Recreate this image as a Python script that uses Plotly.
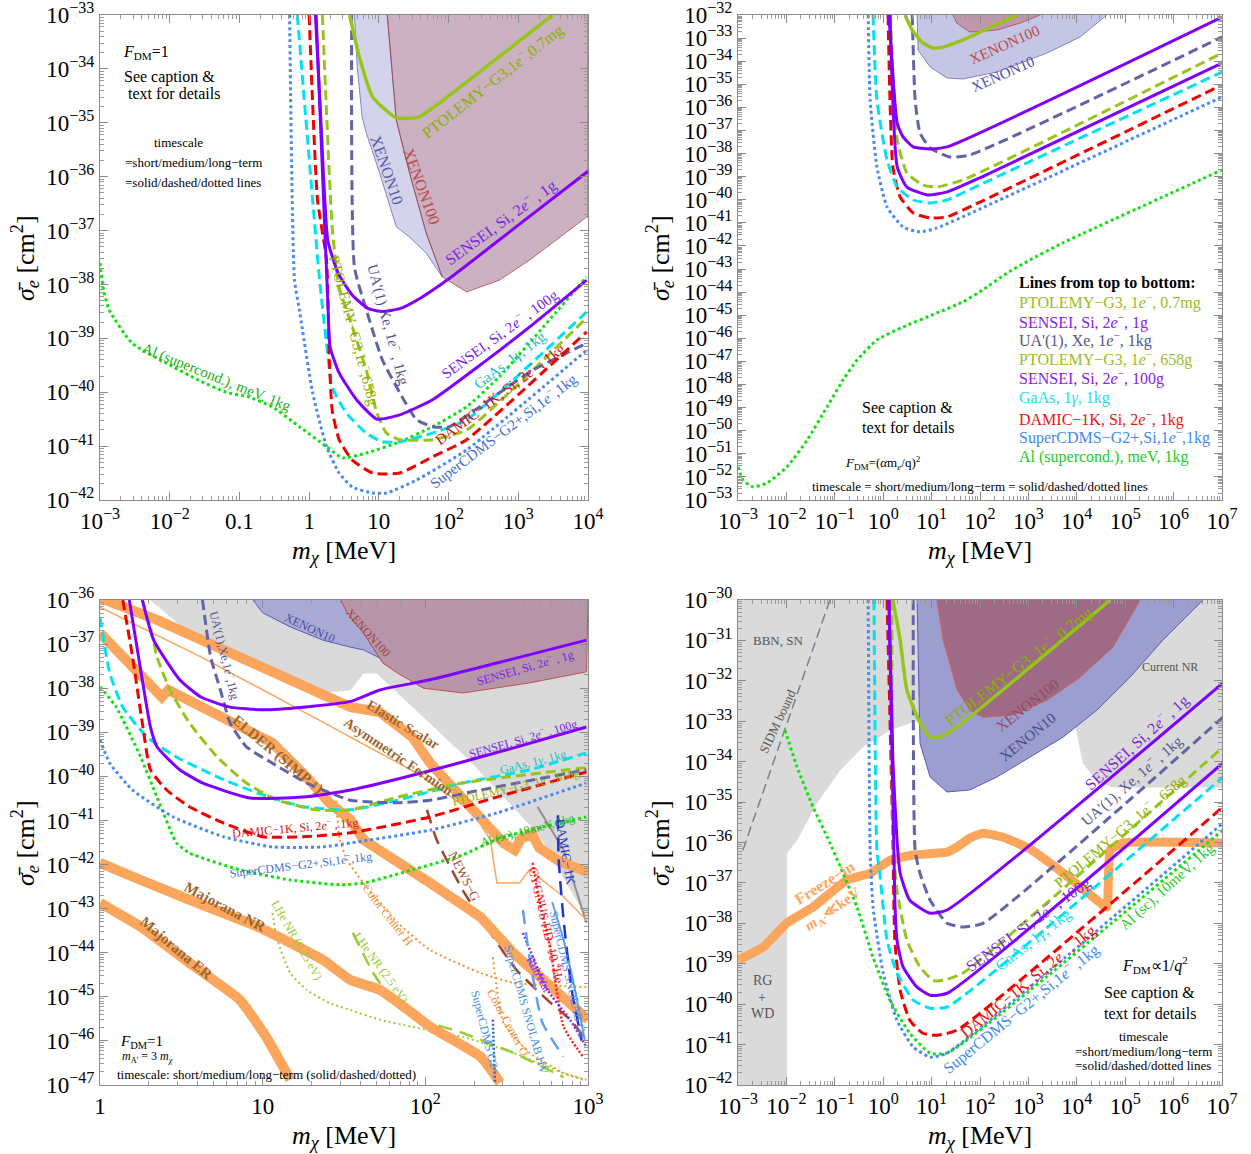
import numpy as np
import plotly.graph_objects as go

FONT = "Liberation Serif"
W, H = 1251, 1154
OFF = 0  # body margin removed via post_script

# ---- colours ----
C_PTOL = "#97C51B"
C_SENSEI = "#8000FF"
C_UA = "#6363A8"
C_GAAS = "#00E3EE"
C_DAMIC = "#F00000"
C_CDMS = "#4A8CEE"
C_AL = "#12E012"
C_OR = "#FBA65C"

T_PTOL = "#8DB000"
T_SENSEI = "#7A1FE0"
T_UA = "#55558F"
T_GAAS = "#20C0C0"
T_DAMIC = "#D01010"
T_CDMS = "#3F6FD0"
T_AL = "#20B020"
T_OR = "#9B6530"

# ================= DATA (log10 m_chi [MeV], log10 sigma_e [cm^2]) =================
# ---- top-left panel: F_DM = 1 ----
tl_x10_m = [0.65, 0.69, 0.76, 0.82, 1.01, 1.25, 1.44, 1.68, 1.91, 1.68, 1.44, 1.25, 1.12]
tl_x10_s = [-33.0, -33.97, -34.89, -35.19, -35.93, -36.93, -37.12, -37.42, -37.86, -37.05, -35.93, -34.95, -33.0]
tl_x100_m = [1.12, 1.25, 1.44, 1.68, 1.91, 2.26, 2.73, 3.16, 3.98, 4.0, 4.0]
tl_x100_s = [-33.0, -34.95, -35.93, -37.05, -37.86, -38.14, -37.92, -37.55, -36.75, -36.75, -33.0]
tl_ptol07_m = [0.58, 0.72, 0.91, 1.25, 1.58, 1.87, 3.49]
tl_ptol07_s = [-33.0, -33.78, -34.52, -34.91, -34.89, -34.63, -33.0]
tl_sensei1_m = [0.09, 0.17, 0.27, 0.42, 0.62, 0.85, 1.05, 1.3, 1.6, 2.0, 3.0, 4.0]
tl_sensei1_s = [-33.0, -35.0, -37.2, -37.8, -38.2, -38.45, -38.5, -38.45, -38.25, -37.9, -36.9, -35.9]
tl_sensei100_m = [0.1, 0.2, 0.27, 0.3, 0.43, 0.68, 0.97, 1.3, 1.77, 2.5, 3.2, 3.98]
tl_sensei100_s = [-33.0, -36.2, -38.4, -39.16, -39.64, -40.14, -40.5, -40.42, -40.14, -39.45, -38.75, -37.92]
tl_ua_m = [0.61, 0.65, 0.82, 1.05, 1.3, 1.54, 1.77, 2.01, 2.73, 3.21, 3.98]
tl_ua_s = [-33.0, -37.68, -38.47, -39.4, -40.01, -40.51, -40.64, -40.64, -40.01, -39.59, -39.09]
tl_ptol658_m = [0.19, 0.33, 0.43, 0.62, 0.82, 0.97, 1.11, 1.3, 1.77, 2.26, 3.0, 3.98]
tl_ptol658_s = [-33.0, -36.93, -38.05, -38.79, -39.59, -40.38, -40.76, -40.88, -40.88, -40.70, -39.85, -38.62]
tl_gaas_m = [-0.17, 0.15, 0.25, 0.33, 0.53, 0.82, 1.05, 1.3, 1.77, 2.26, 3.98]
tl_gaas_s = [-33.0, -37.92, -39.09, -39.9, -40.38, -40.76, -40.92, -40.92, -40.76, -40.51, -38.51]
tl_damic_m = [0.0, 0.12, 0.25, 0.29, 0.33, 0.43, 0.62, 0.91, 1.3, 1.77, 2.26, 3.98]
tl_damic_s = [-33.0, -36.43, -37.55, -39.4, -40.33, -40.88, -41.26, -41.5, -41.5, -41.2, -40.88, -38.88]
tl_cdms_m = [-0.28, -0.21, -0.14, 0.05, 0.25, 0.43, 0.62, 0.91, 1.11, 1.54, 2.26, 3.98]
tl_cdms_s = [-33.0, -37.92, -38.47, -40.01, -41.01, -41.5, -41.76, -41.87, -41.87, -41.63, -41.07, -39.22]
tl_al_m = [-3.0, -2.95, -2.87, -2.54, -2.05, -1.58, -1.19, -0.86, -0.53, -0.14, 0.25, 0.48, 0.82, 1.3, 1.77, 2.26, 2.73, 3.98]
tl_al_s = [-37.6, -38.1, -38.47, -39.09, -39.46, -39.78, -40.0, -40.09, -40.27, -40.64, -41.01, -41.22, -41.13, -40.92, -40.64, -40.27, -39.71, -37.86]

# ---- top-right panel: F_DM = (alpha m_e / q)^2 ----
tr_x10_m = [0.70, 0.72, 0.97, 1.32, 1.65, 2.35, 3.38, 4.07, 4.62]
tr_x10_s = [-32.0, -33.52, -34.25, -34.73, -34.77, -34.47, -33.65, -32.95, -32.0]
tr_x100_m = [1.44, 1.52, 1.79, 2.35, 2.83, 3.24]
tr_x100_s = [-32.0, -32.35, -32.74, -32.65, -32.35, -32.0]
tr_ptol07_m = [0.45, 0.60, 0.82, 1.03, 1.24, 1.65, 2.76]
tr_ptol07_s = [-32.0, -32.65, -33.21, -33.43, -33.39, -33.08, -32.0]
tr_sensei1_m = [0.12, 0.29, 0.41, 0.62, 0.97, 1.32, 7.0]
tr_sensei1_s = [-32.0, -36.68, -37.28, -37.71, -37.8, -37.71, -32.09]
tr_ua_m = [0.60, 0.66, 0.76, 0.97, 1.38, 1.79, 7.0]
tr_ua_s = [-32.0, -35.68, -37.11, -37.76, -38.15, -38.06, -32.95]
tr_ptol658_m = [0.15, 0.18, 0.29, 0.49, 0.82, 1.11, 1.65, 7.0]
tr_ptol658_s = [-32.0, -33.52, -37.41, -38.84, -39.36, -39.45, -39.14, -33.65]
tr_sensei100_m = [0.14, 0.29, 0.49, 0.91, 1.32, 2.0, 7.0]
tr_sensei100_s = [-32.0, -38.58, -39.45, -39.79, -39.66, -39.05, -34.08]
tr_gaas_m = [-0.21, -0.13, 0.08, 0.29, 0.62, 0.97, 1.32, 2.0, 7.0]
tr_gaas_s = [-32.0, -35.68, -38.28, -39.45, -40.01, -40.14, -40.01, -39.35, -34.47]
tr_damic_m = [0.10, 0.20, 0.35, 0.62, 0.97, 1.32, 2.0, 7.0]
tr_damic_s = [-32.0, -38.58, -39.88, -40.57, -40.79, -40.74, -40.1, -35.03]
tr_cdms_m = [-0.31, -0.27, -0.13, 0.08, 0.41, 0.76, 1.11, 2.0, 7.0]
tr_cdms_s = [-32.0, -35.68, -38.58, -40.31, -41.18, -41.39, -41.22, -40.4, -35.55]
tr_al_m = [-3.0, -2.90, -2.69, -2.40, -1.99, -1.57, -1.16, -0.83, -0.54, -0.13, 0.41, 1.11, 1.65, 2.06, 2.56, 3.03, 3.71, 7.0]
tr_al_s = [-51.57, -52.13, -52.43, -52.26, -51.57, -50.40, -48.97, -47.80, -46.94, -46.07, -45.51, -44.90, -44.42, -43.90, -43.17, -42.61, -41.87, -38.71]

# ---- bottom-left panel: F_DM = 1, m_A' = 3 m_chi, models & NR ----
bl_gray_m = [0.31, 0.55, 0.97, 1.37, 1.41, 1.54, 1.60, 1.62, 1.70, 2.27, 2.70, 3.0, 3.0]
bl_gray_s = [-36.0, -36.75, -37.52, -38.04, -38.09, -38.04, -37.75, -37.66, -37.66, -39.63, -41.33, -43.26, -36.0]
bl_x10_m = [0.94, 1.0, 1.17, 1.37, 1.54, 1.62, 1.83, 1.99, 1.74, 1.62, 1.52, 1.48]
bl_x10_s = [-36.0, -36.29, -36.61, -36.91, -37.07, -37.13, -37.52, -38.0, -37.43, -36.75, -36.29, -36.0]
bl_x100_m = [1.48, 1.52, 1.62, 1.74, 1.83, 1.99, 2.23, 2.64, 2.99, 3.0]
bl_x100_s = [-36.0, -36.29, -36.75, -37.43, -37.66, -38.0, -38.11, -37.88, -37.63, -36.0]
bl_sensei1_m = [0.26, 0.33, 0.49, 0.62, 0.80, 1.0, 1.25, 1.54, 1.72, 2.03, 2.44, 2.99]
bl_sensei1_s = [-36.0, -36.91, -37.81, -38.2, -38.43, -38.49, -38.43, -38.3, -38.04, -37.81, -37.43, -36.91]
bl_sensei100_m = [0.18, 0.25, 0.31, 0.35, 0.49, 0.63, 0.92, 1.25, 1.54, 2.0, 2.5, 2.99]
bl_sensei100_s = [-36.0, -37.59, -38.88, -39.33, -39.85, -40.15, -40.49, -40.47, -40.31, -39.9, -39.4, -38.88]
bl_ua_m = [0.63, 0.68, 0.74, 0.80, 0.90, 1.06, 1.27, 1.54, 1.83, 2.03, 2.34, 2.99]
bl_ua_s = [-36.0, -37.29, -38.04, -38.79, -39.33, -39.70, -40.15, -40.54, -40.60, -40.54, -40.31, -39.85]
bl_ptol658_m = [0.26, 0.31, 0.35, 0.43, 0.55, 0.72, 0.90, 1.09, 1.33, 1.54, 1.83, 2.23, 2.99]
bl_ptol658_s = [-36.0, -36.61, -37.29, -38.04, -38.79, -39.56, -40.15, -40.54, -40.76, -40.76, -40.47, -40.15, -39.8]
bl_gaas_m = [0.0, 0.06, 0.14, 0.29, 0.47, 0.72, 0.97, 1.25, 1.54, 1.83, 2.23, 2.64, 2.99]
bl_gaas_s = [-36.39, -37.66, -38.43, -39.11, -39.56, -40.01, -40.38, -40.69, -40.76, -40.54, -40.15, -39.85, -39.47]
bl_damic_m = [0.14, 0.20, 0.26, 0.31, 0.41, 0.55, 0.76, 1.0, 1.25, 1.54, 2.03, 2.44, 2.99]
bl_damic_s = [-36.0, -37.29, -38.79, -39.85, -40.31, -40.69, -41.06, -41.37, -41.37, -41.28, -40.92, -40.47, -39.9]
bl_cdms_m = [0.0, 0.06, 0.20, 0.45, 0.76, 1.06, 1.37, 1.54, 2.03, 2.44, 2.99]
bl_cdms_s = [-39.17, -39.70, -40.31, -40.92, -41.37, -41.60, -41.60, -41.51, -41.22, -40.83, -40.15]
bl_al_m = [0.0, 0.10, 0.25, 0.35, 0.45, 0.47, 0.55, 0.86, 1.17, 1.48, 1.62, 1.92, 2.23, 2.46, 2.99]
bl_al_s = [-37.97, -38.43, -39.56, -40.47, -41.37, -41.51, -41.74, -42.12, -42.35, -42.46, -42.42, -42.12, -41.78, -41.40, -40.92]
bl_elastic_m = [0.0, 0.35, 0.76, 1.17, 1.54, 1.72, 1.92, 2.03, 2.23, 2.48, 2.55, 2.59, 2.66, 2.70, 2.83, 3.0]
bl_elastic_s = [-35.95, -36.45, -37.13, -37.81, -38.43, -38.54, -39.11, -39.70, -40.47, -41.51, -41.67, -41.40, -41.33, -41.62, -41.94, -42.17]
bl_elder_m = [0.0, 0.35, 0.38, 0.42, 0.76, 1.06, 1.27, 1.41, 1.54, 1.62, 2.03, 2.34, 2.54, 2.75, 2.85, 3.0]
bl_elder_s = [-36.75, -38.04, -38.20, -38.04, -38.65, -39.24, -40.01, -40.60, -40.99, -41.44, -42.42, -43.19, -44.0, -44.68, -45.07, -45.52]
bl_asym_m = [0.0, 0.62, 1.23, 1.54, 1.97, 2.29, 2.40, 2.44, 2.58, 2.64, 2.85, 2.99]
bl_asym_s = [-36.16, -37.29, -38.49, -39.11, -39.97, -40.81, -41.44, -42.42, -42.42, -42.12, -42.73, -43.26]
bl_majnr_m = [0.0, 0.25, 0.55, 0.97, 1.37, 1.54, 1.72, 1.92, 2.03, 2.34, 2.46]
bl_majnr_s = [-41.96, -42.35, -42.80, -43.41, -44.16, -44.62, -44.84, -45.37, -45.68, -46.36, -46.95]
bl_majer_m = [0.0, 0.25, 0.55, 0.86, 1.02, 1.17]
bl_majer_s = [-42.87, -43.41, -44.23, -45.07, -45.9, -46.88]
bl_cch_m = [1.45, 1.475, 1.52, 1.62, 1.83, 2.03, 2.34, 2.54, 2.99]
bl_cch_s = [-40.55, -41.44, -41.90, -42.42, -43.32, -43.94, -44.46, -44.68, -44.78]
bl_cco_m = [2.415, 2.44, 2.48, 2.64, 2.85, 2.97]
bl_cco_s = [-44.10, -44.84, -45.59, -46.27, -46.73, -46.88]
bl_lhe025_m = [1.06, 1.09, 1.17, 1.27, 1.41, 1.54, 1.72, 1.92, 2.23, 2.54, 2.85, 2.99]
bl_lhe025_s = [-43.10, -43.71, -44.46, -44.84, -45.14, -45.30, -45.52, -45.68, -45.91, -46.27, -46.73, -46.88]
bl_lhe25_m = [1.555, 1.68, 1.83, 1.97, 2.23, 2.54, 2.85]
bl_lhe25_s = [-43.55, -44.46, -45.23, -45.52, -45.82, -46.27, -46.82]
bl_newsg_m = [2.01, 2.07, 2.23, 2.40, 2.56, 2.75, 2.89, 2.99]
bl_newsg_s = [-40.76, -41.44, -42.58, -43.55, -44.39, -45.07, -45.52, -45.98]
bl_cygnus_m = [2.66, 2.70, 2.77, 2.85, 2.97]
bl_cygnus_s = [-41.96, -42.80, -43.94, -45.68, -46.36]
bl_damic1k_m = [2.815, 2.82, 2.85, 2.90, 2.96]
bl_damic1k_s = [-40.88, -41.90, -43.26, -44.84, -45.98]
bl_snolabhv_m = [2.60, 2.64, 2.72, 2.85]
bl_snolabhv_s = [-43.03, -44.10, -45.59, -46.36]
bl_snolabge_m = [2.78, 2.85, 2.92, 2.98]
bl_snolabge_s = [-42.85, -43.71, -44.84, -45.98]
bl_g2_m = [2.415, 2.428]
bl_g2_s = [-45.52, -46.95]
bl_rubwat_m = [2.60, 2.75, 2.89, 2.99]
bl_rubwat_s = [-43.55, -44.84, -45.52, -46.14]
bl_grayline_m = [2.69, 2.85, 2.99]
bl_grayline_s = [-40.69, -41.67, -43.32]

# ---- bottom-right panel: F_DM ~ 1/q^2 ----
br_gray_m = [-3.0, 7.0, 7.0, 4.75, 4.42, 4.13, 3.92, 2.41, 1.17, 0.55, 0.14, -0.42, -0.89, -1.37, -1.78, -1.99, -1.99, -3.0]
br_gray_s = [-30.0, -30.0, -34.63, -34.63, -34.50, -34.03, -32.80, -32.48, -32.77, -33.04, -33.22, -33.64, -34.21, -35.02, -35.94, -36.26, -42.0, -42.0]
br_x10_m = [0.70, 0.76, 0.97, 1.32, 1.79, 2.35, 3.03, 3.72, 4.42, 5.10, 5.78, 6.61]
br_x10_s = [-30.0, -33.54, -34.38, -34.75, -34.70, -34.38, -33.89, -33.39, -32.72, -31.91, -30.99, -30.0]
br_x100_m = [1.11, 1.24, 1.53, 1.79, 2.06, 2.68, 3.38, 4.07, 4.75, 5.31]
br_x100_s = [-30.0, -30.99, -32.23, -32.72, -32.90, -32.85, -32.48, -31.91, -31.16, -30.0]
br_ptol07_m = [0.20, 0.35, 0.49, 0.76, 0.97, 1.17, 1.53, 4.69]
br_ptol07_s = [-30.0, -30.99, -32.23, -33.04, -33.39, -33.39, -33.14, -30.0]
br_sensei1_m = [0.12, 0.20, 0.285, 0.35, 0.55, 0.97, 1.32, 7.02]
br_sensei1_s = [-30.0, -33.96, -35.94, -36.76, -37.43, -37.75, -37.67, -32.05]
br_sensei100_m = [0.12, 0.24, 0.285, 0.41, 0.70, 0.97, 1.32, 7.02]
br_sensei100_s = [-30.0, -37.43, -38.42, -39.08, -39.58, -39.78, -39.73, -34.03]
br_ua_m = [0.62, 0.66, 0.76, 0.97, 1.32, 1.65, 2.06, 7.02]
br_ua_s = [-30.0, -36.19, -36.76, -37.43, -38.0, -38.09, -38.0, -32.90]
br_ptol658_m = [0.18, 0.20, 0.285, 0.49, 0.76, 1.03, 1.24, 1.65, 7.02]
br_ptol658_s = [-30.0, -35.94, -37.18, -38.42, -39.08, -39.41, -39.41, -39.23, -33.64]
br_gaas_m = [-0.19, -0.13, -0.07, 0.08, 0.285, 0.62, 0.97, 1.32, 7.02]
br_gaas_s = [-30.0, -36.19, -36.76, -38.42, -39.23, -39.90, -40.10, -40.07, -34.38]
br_damic_m = [0.08, 0.20, 0.24, 0.35, 0.55, 0.82, 1.11, 1.53, 7.02]
br_damic_s = [-30.0, -35.94, -38.42, -39.65, -40.40, -40.72, -40.77, -40.64, -35.12]
br_cdms_m = [-0.31, -0.27, -0.21, 0.0, 0.285, 0.62, 0.97, 1.32, 7.02]
br_cdms_s = [-30.0, -36.19, -37.60, -39.23, -40.40, -41.06, -41.31, -41.21, -35.52]
br_al_m = [-2.03, -1.78, -1.45, -1.10, -0.54, -0.21, 0.14, 0.55, 0.97, 1.32, 7.02]
br_al_s = [-33.22, -34.13, -35.12, -36.01, -37.60, -38.84, -39.90, -40.72, -41.21, -41.21, -35.69]
br_freeze_m = [-3.0, -2.48, -1.99, -1.45, -0.75, -0.27, 0.14, 0.62, 1.32, 1.53, 1.79, 2.06, 2.48, 3.03, 3.72, 4.42, 4.62, 4.69, 4.96, 7.02]
br_freeze_s = [-38.91, -38.59, -37.99, -37.60, -36.93, -36.76, -36.44, -36.31, -36.24, -36.11, -35.89, -35.77, -35.87, -36.16, -36.76, -37.43, -37.60, -36.19, -36.01, -36.01]
br_sidm_m = [-2.90, -1.10]
br_sidm_s = [-36.19, -30.0]

# ---- axis ranges / ticks ----
TL_XR, TL_YR = (-3, 4), (-42, -33)
TR_XR, TR_YR = (-3, 7), (-53, -32)
BL_XR, BL_YR = (0, 3), (-47, -36)
BR_XR, BR_YR = (-3, 7), (-42, -30)
TL_XTEXT = ["10<sup>−3</sup>", "10<sup>−2</sup>", "0.1", "1", "10", "10<sup>2</sup>", "10<sup>3</sup>", "10<sup>4</sup>"]
BL_XTEXT = ["1", "10", "10<sup>2</sup>", "10<sup>3</sup>"]

# ================= FIGURE =================
fig = go.Figure()


def refs(ax):
    return ("x", "y") if ax == 1 else ("x%d" % ax, "y%d" % ax)


def line(ax, m, s, color, width=3.0, dash="solid", smooth=0.5):
    xa, ya = refs(ax)
    fig.add_trace(go.Scatter(
        x=np.power(10.0, m), y=np.power(10.0, s), mode="lines",
        line=dict(color=color, width=width, dash=dash,
                  shape="spline" if smooth else "linear", smoothing=smooth if smooth else 0),
        xaxis=xa, yaxis=ya, hoverinfo="skip", showlegend=False))


def region(ax, m, s, fill, edge, ew=1.0):
    xa, ya = refs(ax)
    fig.add_trace(go.Scatter(
        x=np.power(10.0, m), y=np.power(10.0, s), mode="lines", fill="toself",
        fillcolor=fill, line=dict(color=edge, width=ew),
        xaxis=xa, yaxis=ya, hoverinfo="skip", showlegend=False))


def txt(ax, lx, ly, text, color="black", size=15, angle=0, anchor="center", bold=False):
    xa, ya = refs(ax)
    if bold:
        text = "<b>" + text + "</b>"
    fig.add_annotation(x=lx, y=ly, xref=xa, yref=ya, text=text, showarrow=False,
                       textangle=angle, xanchor=anchor, yanchor="middle",
                       font=dict(family=FONT, size=size, color=color))


DASH = "10px,5px"
DOT = "3px,3px"
E = "<i>e</i><sup>−</sup>"

# ---------- top-left ----------
region(1, tl_x10_m, tl_x10_s, "rgba(110,110,190,0.30)", "rgba(90,90,170,0.7)")
region(1, tl_x100_m, tl_x100_s, "rgba(125,60,100,0.40)", "rgba(170,60,60,0.7)")
line(1, tl_al_m, tl_al_s, C_AL, 3, DOT)
line(1, tl_cdms_m, tl_cdms_s, C_CDMS, 3, DOT)
line(1, tl_gaas_m, tl_gaas_s, C_GAAS, 3, DASH)
line(1, tl_ptol658_m, tl_ptol658_s, C_PTOL, 3, DASH)
line(1, tl_ua_m, tl_ua_s, C_UA, 3, DASH)
line(1, tl_damic_m, tl_damic_s, C_DAMIC, 3, DASH)
line(1, tl_sensei100_m, tl_sensei100_s, C_SENSEI, 3)
line(1, tl_sensei1_m, tl_sensei1_s, C_SENSEI, 3)
line(1, tl_ptol07_m, tl_ptol07_s, C_PTOL, 3.5)

txt(1, -2.34, -33.69, "<i>F</i><sub>DM</sub>=1", size=16)
txt(1, -2.01, -34.15, "See caption &", size=16)
txt(1, -1.94, -34.45, "text for details", size=16)
txt(1, -1.88, -35.37, "timescale", size=13)
txt(1, -1.66, -35.73, "=short/medium/long−term", size=13)
txt(1, -1.66, -36.10, "=solid/dashed/dotted lines", size=13)
txt(1, 2.63, -34.21, "PTOLEMY−G3,1" + E + ",0.7mg", T_PTOL, 16, -38)
txt(1, 1.12, -35.88, "XENON10", "#5A5AA8", 16, 71)
txt(1, 1.61, -36.19, "XENON100", "#B84848", 16, 70)
txt(1, 2.75, -36.84, "SENSEI, Si, 2" + E + " , 1g", T_SENSEI, 16, -36)
txt(1, 1.14, -38.75, "UA'(1) Xe, 1" + E + " , 1kg", T_UA, 15, 75)
txt(1, 0.66, -38.84, "PTOLEMY−G3,1" + E + ",658g", T_PTOL, 15, 75)
txt(1, 2.73, -38.90, "SENSEI, Si, 2" + E + " , 100g", T_SENSEI, 15, -36)
txt(1, 2.88, -39.40, "GaAs, 1<i>γ</i>, 1kg", T_GAAS, 15, -37)
txt(1, 2.73, -40.01, "DAMIC−1K, Si, 2" + E + " , 1kg", T_DAMIC, 15, -37)
txt(1, 2.78, -40.70, "SuperCDMS−G2+,Si,1" + E + ",1kg", T_CDMS, 15, -37)
txt(1, -1.33, -39.72, "Al (supercond.), meV, 1kg", T_AL, 15, 22)

# ---------- top-right ----------
region(2, tr_x10_m, tr_x10_s, "rgba(110,110,190,0.40)", "rgba(90,90,170,0.7)")
region(2, tr_x100_m, tr_x100_s, "rgba(190,80,90,0.40)", "rgba(170,60,60,0.7)")
line(2, tr_al_m, tr_al_s, C_AL, 3, DOT)
line(2, tr_cdms_m, tr_cdms_s, C_CDMS, 3, DOT)
line(2, tr_damic_m, tr_damic_s, C_DAMIC, 3, DASH)
line(2, tr_gaas_m, tr_gaas_s, C_GAAS, 3, DASH)
line(2, tr_ptol658_m, tr_ptol658_s, C_PTOL, 3, DASH)
line(2, tr_ua_m, tr_ua_s, C_UA, 3, DASH)
line(2, tr_sensei100_m, tr_sensei100_s, C_SENSEI, 3)
line(2, tr_sensei1_m, tr_sensei1_s, C_SENSEI, 3)
line(2, tr_ptol07_m, tr_ptol07_s, C_PTOL, 3.5)

txt(2, 2.50, -33.30, "XENON100", "#C04848", 15, -24)
txt(2, 2.48, -34.55, "XENON10", "#5050A8", 15, -24)
legend_items = [
    ("<b>Lines from top to bottom:</b>", "black"),
    ("PTOLEMY−G3, 1" + E + ", 0.7mg", "#9ABD22"),
    ("SENSEI, Si, 2" + E + ", 1g", "#8822EE"),
    ("UA'(1), Xe, 1" + E + ", 1kg", "#555588"),
    ("PTOLEMY−G3, 1" + E + ", 658g", "#9ABD22"),
    ("SENSEI, Si, 2" + E + ", 100g", "#8822EE"),
    ("GaAs, 1<i>γ</i>, 1kg", "#22DDEE"),
    ("DAMIC−1K, Si, 2" + E + ", 1kg", "#EE1111"),
    ("SuperCDMS−G2+,Si,1" + E + ",1kg", "#4488EE"),
    ("Al (supercond.), meV, 1kg", "#22CC22"),
]
legend_y = [-43.60, -44.42, -45.25, -46.07, -46.89, -47.71, -48.58, -49.45, -50.27, -51.13]
for (t, c), yy in zip(legend_items, legend_y):
    txt(2, 2.76, yy, t, c, 16, 0, anchor="left")
txt(2, 0.51, -49.01, "See caption &", size=16)
txt(2, 0.51, -49.88, "text for details", size=16)
txt(2, 0.0, -51.39, "<i>F</i><sub>DM</sub>=(<i>α</i>m<sub><i>e</i></sub>/q)<sup>2</sup>", size=13)
txt(2, 2.0, -52.43, "timescale = short/medium/long−term = solid/dashed/dotted lines", size=13)

# ---------- bottom-left ----------
region(3, bl_gray_m, bl_gray_s, "#DADADA", "#DADADA", 0.5)
region(3, bl_x10_m, bl_x10_s, "#A9ABD6", "#5A5AB8", 1)
region(3, bl_x100_m, bl_x100_s, "#B796AA", "#C05050", 1)
line(3, bl_grayline_m, bl_grayline_s, "#909090", 2, "solid", 0)
line(3, bl_cch_m, bl_cch_s, "#F7922E", 2, "2px,3px")
line(3, bl_cco_m, bl_cco_s, "#F7922E", 2, "2px,3px")
line(3, bl_lhe025_m, bl_lhe025_s, "#9ACD32", 2, "2px,3px")
line(3, bl_lhe25_m, bl_lhe25_s, "#9ACD32", 2.5, "14px,8px")
line(3, bl_newsg_m, bl_newsg_s, "#A0452D", 2.5, "14px,8px")
line(3, bl_elastic_m, bl_elastic_s, C_OR, 10, "solid", 0)
line(3, bl_elder_m, bl_elder_s, C_OR, 10, "solid", 0)
line(3, bl_majnr_m, bl_majnr_s, C_OR, 10, "solid", 0.4)
line(3, bl_majer_m, bl_majer_s, C_OR, 10, "solid", 0.4)
line(3, bl_asym_m, bl_asym_s, C_OR, 1.5, "solid", 0)
line(3, bl_cygnus_m, bl_cygnus_s, "#FF2020", 2.5, "2px,2px")
line(3, bl_rubwat_m, bl_rubwat_s, "#8A2BE2", 2.5, "2px,2px")
line(3, bl_snolabhv_m, bl_snolabhv_s, "#5FA0F0", 2.5, "14px,8px")
line(3, bl_snolabge_m, bl_snolabge_s, "#5FA0F0", 2, "solid")
line(3, bl_damic1k_m, bl_damic1k_s, "#2233DD", 2.5, "14px,8px")
line(3, bl_g2_m, bl_g2_s, "#3366CC", 2.5, "2px,2px")
line(3, bl_al_m, bl_al_s, C_AL, 3, DOT)
line(3, bl_cdms_m, bl_cdms_s, C_CDMS, 3, DOT)
line(3, bl_gaas_m, bl_gaas_s, C_GAAS, 3, DASH)
line(3, bl_ptol658_m, bl_ptol658_s, C_PTOL, 3, DASH)
line(3, bl_ua_m, bl_ua_s, C_UA, 3, DASH)
line(3, bl_damic_m, bl_damic_s, C_DAMIC, 3, DASH)
line(3, bl_sensei100_m, bl_sensei100_s, C_SENSEI, 3)
line(3, bl_sensei1_m, bl_sensei1_s, C_SENSEI, 3)

txt(3, 1.29, -36.63, "XENON10", "#4A4A9A", 12, 25)
txt(3, 1.65, -36.75, "XENON100", "#A04040", 12, 48)
txt(3, 0.77, -37.25, "UA'(1),Xe,1" + E + ",1kg", T_UA, 12, 76)
txt(3, 1.86, -38.83, "Elastic Scalar", T_OR, 14, 31, bold=True)
txt(3, 1.83, -39.56, "Asymmetric Fermion", T_OR, 14, 34, bold=True)
txt(3, 1.09, -39.50, "ELDER (SIMP ↑)", T_OR, 15, 40, bold=True)
txt(3, 2.61, -37.52, "SENSEI, Si, 2" + E + " , 1g", T_SENSEI, 12, -16)
txt(3, 2.60, -39.13, "SENSEI, Si, 2" + E + " , 100g", T_SENSEI, 12, -16)
txt(3, 2.66, -39.67, "GaAs, 1<i>γ</i>, 1kg", T_GAAS, 12, -14)
txt(3, 2.56, -40.24, "PTOLEMY−G3, 1" + E + ", 658g", T_PTOL, 12, -13)
txt(3, 1.20, -41.17, "DAMIC−1K, Si, 2" + E + " , 1kg", T_DAMIC, 12, -5)
txt(3, 1.23, -41.99, "SuperCDMS−G2+,Si,1" + E + ",1kg", T_CDMS, 12, -7)
txt(3, 2.63, -41.22, "Al (sc), 10meV, 1kg", T_AL, 12, -15)
txt(3, 2.86, -41.71, "DAMIC−1K", "#2233CC", 13, 80)
txt(3, 2.75, -43.37, "CYGNUS HD−10 <sup>4</sup>He", "#EE1111", 13, 77)
txt(3, 2.88, -44.50, "SuperCDMS SNOLAB Ge", "#4A90E2", 12, 77)
txt(3, 2.62, -45.30, "SuperCDMS SNOLAB HV", "#4A90E2", 12, 74)
txt(3, 2.70, -44.50, "RubWat", "#8822EE", 12, 62)
txt(3, 2.24, -42.28, "NEWS−G", "#A0522D", 13, 63)
txt(3, 1.77, -43.14, "Color Center H", "#F08A30", 12, 52)
txt(3, 2.51, -45.59, "Color Center O", "#F08A30", 12, 61)
txt(3, 2.37, -45.82, "SuperCDMS G2+", "#4A90E2", 12, 76)
txt(3, 1.21, -43.71, "LHe NR (0.25 eV)", "#99CC33", 12, 60)
txt(3, 1.73, -44.34, "LHe NR (2.5 eV)", "#99CC33", 12, 54)
txt(3, 0.77, -42.96, "Majorana NR", T_OR, 15, 28, bold=True)
txt(3, 0.47, -43.89, "Majorana ER", T_OR, 15, 40, bold=True)
txt(3, 0.11, -46.02, "<i>F</i><sub>DM</sub>=1", size=15, anchor="left")
txt(3, 0.12, -46.36, "<i>m</i><sub>A'</sub> = 3 <i>m</i><sub><i>χ</i></sub>", size=12, anchor="left")
txt(3, 0.09, -46.76, "timescale: short/medium/long−term (solid/dashed/dotted)", size=13, anchor="left")

# ---------- bottom-right ----------
region(4, br_gray_m, br_gray_s, "#DADADA", "#DADADA", 0.5)
region(4, br_x10_m, br_x10_s, "#9C9ED0", "#5A5AB8", 1)
region(4, br_x100_m, br_x100_s, "#9E6A86", "#D06060", 1)
line(4, br_sidm_m, br_sidm_s, "#808080", 1.5, "10px,5px", 0)
line(4, br_freeze_m, br_freeze_s, C_OR, 9, "solid", 0.4)
line(4, br_al_m, br_al_s, C_AL, 3, DOT)
line(4, br_cdms_m, br_cdms_s, C_CDMS, 3, DOT)
line(4, br_damic_m, br_damic_s, C_DAMIC, 3, DASH)
line(4, br_gaas_m, br_gaas_s, C_GAAS, 3, DASH)
line(4, br_ptol658_m, br_ptol658_s, C_PTOL, 3, DASH)
line(4, br_ua_m, br_ua_s, C_UA, 3, DASH)
line(4, br_sensei100_m, br_sensei100_s, C_SENSEI, 3)
line(4, br_sensei1_m, br_sensei1_s, C_SENSEI, 3)
line(4, br_ptol07_m, br_ptol07_s, C_PTOL, 3.5)

txt(4, -2.17, -30.99, "BBN, SN", "#555555", 13)
txt(4, -2.19, -33.0, "SIDM bound", "#555555", 13, -65)
txt(4, 5.93, -31.66, "Current NR", "#555555", 12)
txt(4, 2.79, -31.61, "PTOLEMY−G3, 1" + E + ", 0.7mg", T_PTOL, 16, -38)
txt(4, 2.99, -32.6, "XENON100", "#8E4A60", 15, -38)
txt(4, 2.99, -33.39, "XENON10", "#4A4A8A", 15, -39)
txt(4, 5.24, -33.51, "SENSEI, Si, 2" + E + " , 1g", T_SENSEI, 16, -42)
txt(4, 5.12, -34.46, "UA'(1), Xe, 1" + E + " , 1kg", T_UA, 15, -41)
txt(4, 4.89, -35.69, "PTOLEMY−G3, 1" + E + " , 658g", T_PTOL, 15, -40)
txt(4, 2.99, -38.0, "SENSEI, Si, 2" + E + " , 100g", T_SENSEI, 16, -36)
txt(4, 3.10, -38.42, "GaAs, 1<i>γ</i>, 1kg", "#22DDEE", 16, -38)
txt(4, 2.99, -39.41, "DAMIC−1K, Si, 2" + E + " , 1kg", "#EE1111", 16, -39)
txt(4, 2.83, -40.10, "SuperCDMS−G2+,Si,1" + E + " ,1kg", "#4488EE", 16, -39)
txt(4, 5.88, -37.10, "Al (sc), 10meV, 1kg", "#22CC22", 15, -42)
txt(4, -1.20, -37.0, "Freeze−in", C_OR, 16, -32, bold=True)
txt(4, -1.04, -37.67, "<i>m</i><sub>A'</sub>≪keV", C_OR, 15, -35, bold=True)
txt(4, -2.50, -39.41, "RG", "#555555", 14)
txt(4, -2.50, -39.83, "+", "#555555", 14)
txt(4, -2.50, -40.22, "WD", "#555555", 14)
txt(4, 5.62, -39.03, "<i>F</i><sub>DM</sub>∝1/<i>q</i><sup>2</sup>", size=16)
txt(4, 5.51, -39.73, "See caption &", size=16)
txt(4, 5.51, -40.22, "text for details", size=16)
txt(4, 5.37, -40.79, "timescale", size=13)
txt(4, 5.37, -41.16, "=short/medium/long−term", size=13)
txt(4, 5.37, -41.51, "=solid/dashed/dotted lines", size=13)


# ---------- axes ----------
def decade_text(k):
    return "10<sup>%s</sup>" % (str(k).replace("-", "−"))


def minor_vals(lo, hi):
    out = []
    for d in range(lo, hi):
        for k in range(2, 10):
            out.append(k * 10.0 ** d)
    return out


EPS = 1e-4


def make_axis(rng, domain, anchor, tickvals, ticktext):
    return dict(type="log", range=[rng[0] - EPS, rng[1] + EPS], domain=domain, anchor=anchor,
                automargin=False, ticklabeloverflow="allow",
                showgrid=False, zeroline=False, showline=True, linecolor="#8a8a8a",
                linewidth=1, mirror="allticks", ticks="inside", ticklen=8, tickwidth=1,
                tickcolor="#8a8a8a", tickmode="array", tickvals=tickvals, ticktext=ticktext,
                tickfont=dict(family=FONT, size=23, color="black"),
                minor=dict(ticks="inside", ticklen=4, tickcolor="#9a9a9a", tickwidth=1,
                           tickmode="array", tickvals=minor_vals(int(rng[0]), int(rng[1])),
                           showgrid=False))


def xd(a, b):
    return [(a - OFF) / W, (b - OFF) / W]


def yd(top, bottom):
    return [1 - (bottom - OFF) / H, 1 - (top - OFF) / H]


XD_L = xd(100, 588)
XD_R = xd(738, 1222)
YD_T = yd(15, 500)
YD_B = yd(600, 1085)

dec = lambda a, b: [float("1e%d" % k) for k in range(a, b + 1)]
txts = lambda a, b: [decade_text(k) for k in range(a, b + 1)]

lay = dict(
    width=W, height=H, margin=dict(l=0, r=0, t=0, b=0, autoexpand=False),
    paper_bgcolor="white", plot_bgcolor="white", showlegend=False,
    font=dict(family=FONT, color="black"),
    xaxis=make_axis(TL_XR, XD_L, "y", dec(-3, 4), TL_XTEXT),
    yaxis=make_axis(TL_YR, YD_T, "x", dec(-42, -33), txts(-42, -33)),
    xaxis2=make_axis(TR_XR, XD_R, "y2", dec(-3, 7), txts(-3, 7)),
    yaxis2=make_axis(TR_YR, YD_T, "x2", dec(-53, -32), txts(-53, -32)),
    xaxis3=make_axis(BL_XR, XD_L, "y3", dec(0, 3), BL_XTEXT),
    yaxis3=make_axis(BL_YR, YD_B, "x3", dec(-47, -36), txts(-47, -36)),
    xaxis4=make_axis(BR_XR, XD_R, "y4", dec(-3, 7), txts(-3, 7)),
    yaxis4=make_axis(BR_YR, YD_B, "x4", dec(-42, -30), txts(-42, -30)),
)
fig.update_layout(**lay)

YT = "<i>σ̄</i><sub><i>e</i></sub> [cm<sup>2</sup>]"
XT = "<i>m</i><sub><i>χ</i></sub> [MeV]"
for (px, py, t, ang) in [(25, 258, YT, -90), (660, 258, YT, -90), (25, 843, YT, -90), (660, 843, YT, -90),
                         (344, 552, XT, 0), (980, 552, XT, 0), (344, 1137, XT, 0), (980, 1137, XT, 0)]:
    fig.add_annotation(x=(px - OFF) / W, y=1 - (py - OFF) / H, xref="paper", yref="paper", text=t,
                       showarrow=False, textangle=ang, xanchor="center", yanchor="middle",
                       font=dict(family=FONT, size=26, color="black"))

fig.write_html("out.html", config={"displayModeBar": False},
               post_script="document.body.style.margin='0px';")
